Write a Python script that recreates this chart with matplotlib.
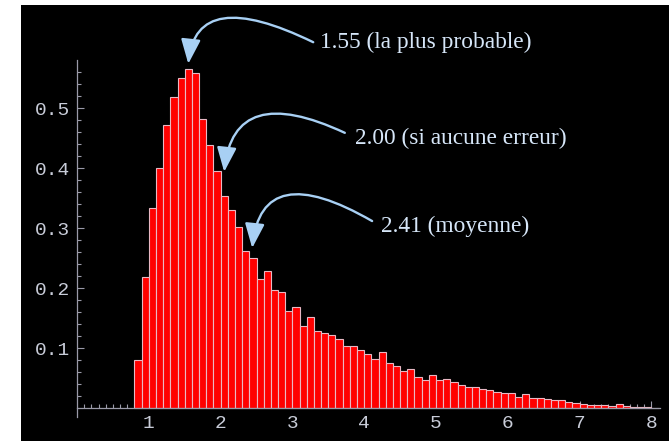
import numpy as np
import matplotlib
matplotlib.use("Agg")
import matplotlib.pyplot as plt

# histogram: bins of width 0.1 starting at 0.8
bin_start = 0.8
bin_width = 0.1
heights = [
    0.080, 0.219, 0.333, 0.400, 0.472, 0.518, 0.551, 0.565, 0.559, 0.482,
    0.439, 0.396, 0.353, 0.330, 0.302, 0.262, 0.250, 0.215, 0.229, 0.197,
    0.194, 0.162, 0.169, 0.137, 0.152, 0.129, 0.125, 0.122, 0.115, 0.103,
    0.104, 0.097, 0.090, 0.082, 0.093, 0.075, 0.070, 0.062, 0.066, 0.052,
    0.047, 0.055, 0.047, 0.048, 0.043, 0.038, 0.036, 0.035, 0.032, 0.030,
    0.027, 0.025, 0.025, 0.018, 0.024, 0.017, 0.017, 0.015, 0.014, 0.014,
    0.011, 0.009, 0.007, 0.005, 0.0055, 0.0055, 0.0033, 0.0067, 0.0033, 0.002,
    0.002, 0.0015, 0.0013,
]

x_ticks = [1, 2, 3, 4, 5, 6, 7, 8]
y_ticks = [0.1, 0.2, 0.3, 0.4, 0.5]

# annotations: label, arrow tip, arrow tail, text position, start angle
labels = ["1.55 (la plus probable)", "2.00 (si aucune erreur)", "2.41 (moyenne)"]
tips = [(1.55, 0.574), (2.05, 0.394), (2.44, 0.267)]
tails = [(3.29, 0.610), (3.73, 0.459), (4.11, 0.312)]
text_pos = [(3.38, 0.609), (3.87, 0.450), (4.23, 0.303)]
start_angles = [-26, -25, -30]

fig = plt.figure(figsize=(6.69, 4.41), dpi=100, facecolor="white")
ax = fig.add_axes([21 / 669, 0, 648 / 669, 436 / 441])
ax.set_facecolor("black")

lefts = bin_start + bin_width * np.arange(len(heights))
ax.bar(lefts, heights, width=bin_width, align="edge", color="#ff0000",
       edgecolor="#e8b8c4", linewidth=0.8, zorder=2)

ax.set_xlim(-0.78, 8.245)
ax.set_ylim(-0.0545, 0.672)

axis_col = "#9a9aa8"
for s in ["top", "right"]:
    ax.spines[s].set_visible(False)
ax.spines["left"].set_position(("data", 0))
ax.spines["bottom"].set_position(("data", 0))
ax.spines["left"].set_bounds(-0.014, 0.58)
ax.spines["bottom"].set_bounds(0, 8.12)
for s in ["left", "bottom"]:
    ax.spines[s].set_color(axis_col)
    ax.spines[s].set_linewidth(0.9)
    ax.spines[s].set_zorder(3)

ax.set_xticks(x_ticks)
ax.set_yticks(y_ticks)
ax.set_xticks(np.arange(0.1, 8.1, 0.1), minor=True)
ax.set_yticks(np.arange(0.02, 0.58, 0.02), minor=True)
ax.set_yticklabels(["%.1f" % v for v in y_ticks])
ax.tick_params(which="both", direction="in", color=axis_col, width=0.8,
               labelcolor="#c8ccd8", labelsize=14)
ax.tick_params(which="major", length=5, pad=5)
ax.tick_params(which="minor", length=3)
for lab in ax.get_xticklabels() + ax.get_yticklabels():
    lab.set_fontfamily("Liberation Mono")

arrow_col = "#a8d0f4"
for lab, tip, tail, tp, ang in zip(labels, tips, tails, text_pos, start_angles):
    ax.annotate("", xy=tip, xytext=tail, annotation_clip=False,
                arrowprops=dict(arrowstyle="-|>,head_length=0.75,head_width=0.3",
                                mutation_scale=20, color=arrow_col, lw=1.7,
                                shrinkA=0, shrinkB=0,
                                connectionstyle="angle3,angleA=%d,angleB=84" % ang))
    ax.text(tp[0], tp[1], lab, color="#d6e6f8", fontsize=16.8,
            family="Liberation Serif", ha="left", va="center")

fig.savefig("out.png", dpi=100, facecolor="white")
